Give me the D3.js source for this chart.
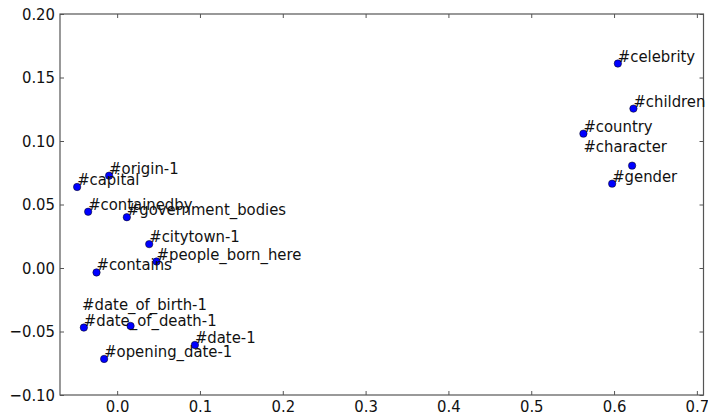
<!DOCTYPE html>
<html>
<head>
<meta charset="utf-8">
<script src="https://cdn.jsdelivr.net/npm/d3@7"></script>
<style>
  html, body { margin: 0; padding: 0; background: #fff; }
  svg { display: block; }
  text { font-family: "DejaVu Sans Condensed", "DejaVu Sans", sans-serif; fill: #111; }
</style>
</head>
<body>
<svg id="chart" width="708" height="416"></svg>
<script>
// Relation embeddings projected to 2-D
const names = ["#celebrity", "#children", "#country", "", "#gender",
               "#origin-1", "#capital", "#containedby", "#government_bodies",
               "#citytown-1", "#people_born_here", "#contains",
               "#date_of_death-1", "", "#date-1", "#opening_date-1"];
const xVals = [0.6046, 0.6234, 0.5630, 0.6218, 0.5977,
               -0.0097, -0.0483, -0.0350, 0.0117,
               0.0387, 0.0476, -0.0249,
               -0.0402, 0.0162, 0.0939, -0.0157];
const yVals = [0.1610, 0.1255, 0.1058, 0.0806, 0.0664,
               0.0727, 0.0638, 0.0443, 0.0400,
               0.0188, 0.0051, -0.0035,
               -0.0469, -0.0456, -0.0606, -0.0716];

// Annotations anchored away from any marker
const noteNames = ["#character", "#date_of_birth-1"];
const noteX = [0.5630, -0.0423];
const noteY = [0.0900, -0.0346];

const xTicks = [0.0, 0.1, 0.2, 0.3, 0.4, 0.5, 0.6, 0.7];
const yTicks = [-0.10, -0.05, 0.00, 0.05, 0.10, 0.15, 0.20];

const svg = d3.select("#chart");
const plotLeft = 60, plotRight = 703.5, plotTop = 14, plotBottom = 395;
const fontSize = 16.5;

const x = d3.scaleLinear().domain([-0.069, 0.708]).range([plotLeft, plotRight]);
const y = d3.scaleLinear().domain([-0.10, 0.20]).range([plotBottom, plotTop]);

const minus = s => s.replace("-", "\u2212");
const fmtX = v => minus(d3.format(".1f")(v));
const fmtY = v => minus(d3.format(".2f")(v));

// Axes with inward ticks on all four sides
function styleAxis(g) {
  g.select(".domain").remove();
  g.selectAll(".tick line").attr("stroke", "#555").attr("stroke-width", 1);
  g.selectAll(".tick text").attr("font-size", fontSize)
    .attr("font-family", "DejaVu Sans Condensed, DejaVu Sans, sans-serif").attr("fill", "#111");
}

svg.append("g").attr("transform", `translate(0,${plotBottom})`)
  .call(d3.axisBottom(x).tickValues(xTicks).tickFormat(fmtX).tickSizeInner(-4).tickSizeOuter(0).tickPadding(5))
  .call(styleAxis);
svg.append("g").attr("transform", `translate(0,${plotTop})`)
  .call(d3.axisTop(x).tickValues(xTicks).tickFormat("").tickSizeInner(-4).tickSizeOuter(0))
  .call(styleAxis);
svg.append("g").attr("transform", `translate(${plotLeft},0)`)
  .call(d3.axisLeft(y).tickValues(yTicks).tickFormat(fmtY).tickSizeInner(-4).tickSizeOuter(0).tickPadding(5))
  .call(styleAxis);
svg.append("g").attr("transform", `translate(${plotRight},0)`)
  .call(d3.axisRight(y).tickValues(yTicks).tickFormat("").tickSizeInner(-4).tickSizeOuter(0))
  .call(styleAxis);

// Plot frame
svg.append("rect")
  .attr("x", plotLeft).attr("y", plotTop)
  .attr("width", plotRight - plotLeft).attr("height", plotBottom - plotTop)
  .attr("fill", "none").attr("stroke", "#555").attr("stroke-width", 1.2);

const pts = names.map((n, i) => ({ name: n, x: xVals[i], y: yVals[i] }));
const notes = noteNames.map((n, i) => ({ name: n, x: noteX[i], y: noteY[i] }));

// Markers
svg.append("g").selectAll("circle").data(pts).join("circle")
  .attr("cx", d => x(d.x)).attr("cy", d => y(d.y))
  .attr("r", 3.7)
  .attr("fill", "#0000ff").attr("stroke", "#000").attr("stroke-width", 0.5);

// Labels at each marker
svg.append("g").selectAll("text").data(pts.filter(d => d.name)).join("text")
  .attr("x", d => x(d.x)).attr("y", d => y(d.y) - 2)
  .attr("font-size", fontSize)
  .text(d => d.name);

svg.append("g").selectAll("text").data(notes).join("text")
  .attr("x", d => x(d.x)).attr("y", d => y(d.y) - 2)
  .attr("font-size", fontSize)
  .text(d => d.name);
</script>
</body>
</html>
